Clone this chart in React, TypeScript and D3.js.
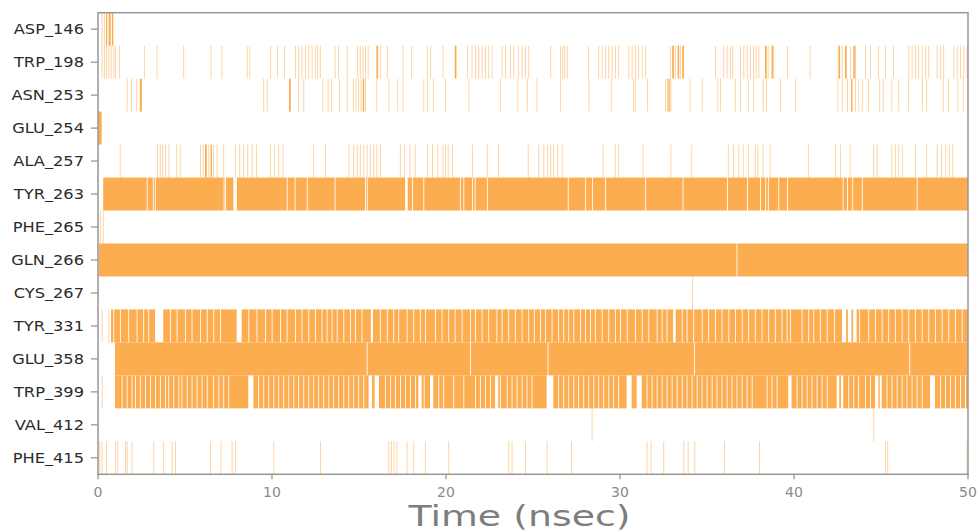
import React from "react";
import * as d3 from "d3";

// Residue contact timeline: each row marks the frames in which the residue is in contact.
const residues = [
  "ASP_146", "TRP_198", "ASN_253", "GLU_254", "ALA_257", "TYR_263", "PHE_265",
  "GLN_266", "CYS_267", "TYR_331", "GLU_358", "TRP_399", "VAL_412", "PHE_415",
];

const xTicks = [0, 10, 20, 30, 40, 50];
const FRAME = 0.05; // nsec per recorded frame
const TIME_MAX = 50;

type Gap = number | [number, number];

// Single-frame contacts (nsec)
const asp146Hits = [0.21, 0.34];
const asp146Spans: [number, number][] = [[0.46, 0.53], [0.61, 0.73], [0.8, 0.88]];

const trp198Hits = [
  0.21, 0.34, 0.46, 0.59, 0.73, 0.88, 0.97, 1.2, 2.64, 3.37, 4.9, 6.47, 7.1, 8.55, 8.7, 9.9, 10.3, 10.7,
  11.32, 11.51, 11.7, 11.9, 12.09, 12.28, 12.47, 12.6, 12.75, 13.6, 13.8, 14.3, 14.9, 15.05, 15.2, 15.35, 15.5,
  16.2, 16.6, 17.5, 18.0, 18.9, 19.1, 19.8, 21.2, 21.47, 21.67, 21.86, 22.05, 22.24, 22.43, 22.62,
  23.2, 23.39, 23.68, 23.87, 24.15, 24.35, 24.54, 24.73, 26.0, 26.55, 26.69, 26.8, 26.94, 28.16,
  28.75, 28.95, 29.14, 29.33, 29.52, 29.71, 29.9, 30.48, 30.67, 30.86, 31.05, 31.25, 31.44,
  32.87, 33.16, 33.45, 35.46, 35.94, 36.13, 36.32, 36.45, 36.9, 37.09, 37.28, 37.47, 37.66,
  37.8, 37.95, 38.49, 38.81, 39.6, 40.9, 42.74, 43.22, 43.51, 44.08, 44.37, 44.83, 45.23, 45.7,
  46.57, 46.76, 46.95, 47.14, 47.34, 47.53, 47.72, 48.2, 48.39, 48.58, 49.16, 49.35, 49.54, 49.73, 49.92,
];
const trp198Spans: [number, number][] = [
  [16.0, 16.1], [20.5, 20.6], [33.0, 33.1], [33.31, 33.4], [33.58, 33.68], [38.33, 38.43], [38.71, 38.8],
  [42.55, 42.65], [42.93, 43.03], [43.41, 43.5],
];

const asn253Hits = [
  1.65, 1.9, 2.2, 9.5, 9.7, 11.5, 11.8, 12.9, 13.2, 13.4, 13.85, 14.3, 14.65, 14.8, 14.95, 15.1, 15.35,
  16.0, 16.7, 17.2, 17.5, 18.7, 18.9, 19.25, 19.95, 21.3, 23.1, 24.1, 24.65, 25.2, 26.55, 28.2, 29.5,
  30.75, 30.85, 31.55, 32.6, 32.7, 32.9, 34.0, 34.7, 35.6, 35.75, 36.6, 36.9, 37.35, 37.65, 38.2, 38.4,
  39.2, 40.05, 42.5, 42.75, 43.05, 43.5, 43.7, 43.9, 44.25, 44.9, 45.1, 45.6, 46.0, 46.55, 47.35, 47.6,
  48.55, 48.85, 49.4, 49.7,
];
const asn253Spans: [number, number][] = [[2.4, 2.52], [10.98, 11.08], [15.22, 15.3], [32.78, 32.86], [43.28, 43.36]];

const glu254Hits: number[] = [];
const glu254Spans: [number, number][] = [[0.02, 0.21]];

const ala257Hits = [
  1.25, 3.4, 3.55, 3.7, 3.85, 4.05, 4.5, 4.7, 5.86, 6.02, 6.34, 6.62, 6.82, 7.2,
  7.87, 8.12, 8.35, 8.58, 8.83, 9.08, 9.89, 10.11, 10.36, 10.61, 12.37, 13.05,
  14.4, 14.67, 14.87, 15.05, 15.25, 15.44, 15.63, 15.82, 16.0, 16.2, 17.35, 17.6, 17.9, 18.2,
  18.9, 19.2, 19.5, 19.8, 19.95, 20.1, 20.35, 21.5, 22.35, 23.0, 24.7,
  25.3, 25.6, 25.8, 26.0, 26.15, 26.4, 26.65, 29.0, 29.7, 29.9, 31.3, 32.9, 34.1,
  36.2, 36.5, 36.8, 37.05, 37.35, 37.75, 37.9, 38.2, 38.6, 40.8, 42.35, 42.65, 43.2, 44.55, 44.75,
  45.6, 45.8, 46.0, 46.2, 46.95, 47.6, 48.2, 48.45, 48.7, 48.9, 49.1,
];
const ala257Spans: [number, number][] = [[6.15, 6.25], [6.47, 6.55]];

const tyr263Hits: number[] = [];
const tyr263Spans: [number, number][] = [[0.3, 50]];
const tyr263Gaps: Gap[] = [
  2.8, 3.15, 3.27, 7.22, 7.3, [7.78, 7.98], 10.85, 11.3, 12.0, 13.6, 15.35, 15.45, [17.65, 17.8], 18.05,
  18.7, 20.8, 21.0, 21.5, 21.65, 22.35, 27.0, 28.0, 28.4, 29.15, 31.45, 33.6, 36.15, 37.3,
  38.05, 38.35, 38.5, 39.1, 39.6, 42.8, 43.05, 43.35, 43.9, 47.05,
];

const phe265Hits = [0.11, 0.27];

const gln266Spans: [number, number][] = [[0.05, 50]];
const gln266Gaps: Gap[] = [36.7];

const cys267Hits = [34.15];

const tyr331Hits = [0.21, 0.6];
const tyr331Spans: [number, number][] = [[0.75, 3.28], [3.75, 7.97], [8.26, 50]];
const tyr331Gaps: Gap[] = [
  0.88, 1.26, 1.74, 2.22, 2.6, 2.89, 4.14, 4.52, 5.0, 5.38, 5.86, 6.25, 6.63, 7.01,
  8.64, 9.11, 9.6, 9.98, 10.46, 10.84, 11.32, 11.7, 12.09, 12.47, 12.85, 13.14, 13.43, 13.72,
  14.1, 14.48, 14.77, 15.15, [15.68, 15.8], 16.2, 16.6, 16.97, 17.26, 17.74, 18.12, 18.5, 18.8,
  19.37, 19.75, 20.13, 20.5, 20.9, 21.38, 21.67, 22.05, 22.43, 22.9, 23.2, 23.58, 23.96, 24.35,
  24.73, 25.05, 25.4, 25.7, 26.07, 26.45, 26.74, 27.03, 27.32, 27.7, 27.99, 28.28, 28.56, 28.95,
  29.33, 29.71, 30.0, 30.39, 30.86, 31.25, 31.63, 32.11, 32.4, 32.68, [33.05, 33.2], 33.55, 33.83,
  34.21, 34.7, 35.07, 35.46, 35.84, 36.23, 36.61, 37.0, 37.37, 37.75, 38.14, 38.52, 38.9, 39.29,
  39.58, 39.77, 40.44, 40.82, 41.11, 41.49, 41.88, 42.3, [42.76, 43.0], [43.1, 43.3], [43.4, 43.6],
  43.75, 44.27, 44.66, 45.04, 45.42, 45.8, 46.19, 46.57, 46.95, 47.34, 47.72, 48.1, 48.49, 48.87,
  49.25, 49.64,
];

const glu358Spans: [number, number][] = [[0.98, 50]];
const glu358Gaps: Gap[] = [15.44, 21.38, 25.84, 34.25, 46.63];

const trp399Hits = [0.21];
const trp399Spans: [number, number][] = [[0.98, 50]];
const trp399Gaps: Gap[] = [
  1.36, 1.65, 1.93, 2.13, 2.41, 2.7, 2.99, 3.28, 3.56, 3.85, 4.04, 4.33, 4.62, 4.8, 5.1, 5.38, 5.67,
  5.96, 6.25, 6.62, 6.92, 7.2, 7.49, [8.64, 8.93], 9.21, 9.5, 9.79, 10.08, 10.36, 10.65, 10.94,
  11.23, 11.51, 11.8, 12.09, 12.37, 12.66, 12.95, 13.24, 13.52, 13.81, 14.1, 14.39, 14.67, 14.96,
  15.25, [15.55, 15.75], [15.9, 16.15], 16.49, 16.78, 17.07, 17.36, 17.64, 17.93, 18.22,
  [18.41, 18.6], 18.72, [19.08, 19.27], 19.56, 19.84, 20.42, 21.0, 21.67, 21.95, 22.24, 22.53,
  [22.82, 23.0], 23.1, 23.49, 23.77, 24.06, 24.35, 24.63, 24.92, [25.78, 26.17], 26.45, 26.74,
  27.03, 27.32, 27.6, 27.89, 28.18, 28.47, 28.75, 29.04, 29.33, 29.61, 29.9, [30.38, 30.67],
  [30.96, 31.25], 31.53, 31.82, 32.11, 32.4, 32.68, 32.97, 33.26, 33.55, 33.83, 34.12, 34.41,
  34.69, 34.98, 35.27, 35.55, 35.84, 36.13, 36.41, 36.7, 36.99, 37.28, 37.57, 38.43, 38.71, 39.0,
  [39.67, 39.86], 40.15, 40.44, 40.73, 41.01, 41.3, 41.59, 41.88, [42.45, 42.6], [42.7, 42.83],
  43.12, 43.41, 43.69, 44.08, 44.37, [44.66, 44.85], [44.93, 45.04], 45.32, 45.61, 45.9, 46.19,
  46.47, 46.76, 47.05, 47.34, [47.82, 48.1], 48.39, 48.68, 48.97, 49.25, 49.54, 49.83,
];

const val412Hits = [28.37, 44.56];

const phe415Hits = [
  0.08, 0.21, 0.46, 0.98, 1.11, 1.55, 1.65, 1.93, 3.18, 3.75, 4.23, 4.43, 6.44, 7.05, 7.68, 7.87,
  10.08, 12.76, 16.69, 16.84, 16.99, 17.16, 17.74, 18.12, 18.79, 20.13, 23.58, 23.77, 24.54,
  25.78, 27.18, 31.53, 31.76, 32.49, 33.64, 33.89, 34.27, 35.99, 37.99, 45.23, 45.36, 49.92,
];

type RowData = { hits: number[]; spans: [number, number][]; gaps: Gap[] };

const rowData: Record<string, RowData> = {
  ASP_146: { hits: asp146Hits, spans: asp146Spans, gaps: [] },
  TRP_198: { hits: trp198Hits, spans: trp198Spans, gaps: [] },
  ASN_253: { hits: asn253Hits, spans: asn253Spans, gaps: [] },
  GLU_254: { hits: glu254Hits, spans: glu254Spans, gaps: [] },
  ALA_257: { hits: ala257Hits, spans: ala257Spans, gaps: [] },
  TYR_263: { hits: tyr263Hits, spans: tyr263Spans, gaps: tyr263Gaps },
  PHE_265: { hits: phe265Hits, spans: [], gaps: [] },
  GLN_266: { hits: [], spans: gln266Spans, gaps: gln266Gaps },
  CYS_267: { hits: cys267Hits, spans: [], gaps: [] },
  TYR_331: { hits: tyr331Hits, spans: tyr331Spans, gaps: tyr331Gaps },
  GLU_358: { hits: [], spans: glu358Spans, gaps: glu358Gaps },
  TRP_399: { hits: trp399Hits, spans: trp399Spans, gaps: trp399Gaps },
  VAL_412: { hits: val412Hits, spans: [], gaps: [] },
  PHE_415: { hits: phe415Hits, spans: [], gaps: [] },
};

type Interval = { a: number; b: number; single: boolean };

// Split contact runs at the frames where the contact is broken; single frames are kept apart.
function contactIntervals(d: RowData): Interval[] {
  const out: Interval[] = [];
  const gaps = d.gaps
    .map((g) => (typeof g === "number" ? ([g, g + FRAME] as [number, number]) : g))
    .sort((p, q) => p[0] - q[0]);
  for (const [s, e] of d.spans) {
    let cur = s;
    for (const [g0, g1] of gaps) {
      if (g1 <= cur || g0 >= e) continue;
      if (g0 > cur) out.push({ a: cur, b: g0, single: false });
      cur = Math.max(cur, g1);
    }
    if (cur < e) out.push({ a: cur, b: e, single: false });
  }
  for (const t of d.hits) out.push({ a: t, b: Math.min(t + FRAME, TIME_MAX), single: true });
  return out;
}

const W = 980;
const H = 531;
const M = { left: 98, right: 968, top: 12.7, bottom: 474.3 };
const BAR = "#fbad50";
const AXIS = "#979797";
const FONT = "'DejaVu Sans', sans-serif";

export default function App() {
  const x = d3.scaleLinear().domain([0, TIME_MAX]).range([M.left, M.right]);
  const y = d3.scaleBand<string>().domain(residues).range([M.top, M.bottom]).padding(0);
  const bw = y.bandwidth();

  return (
    <svg
      width={W}
      height={H}
      style={{ position: "absolute", left: 0, top: 0, background: "#fff" }}
      fontFamily={FONT}
    >
      <g>
        {residues.map((r) =>
          contactIntervals(rowData[r]).map((iv, i) => (
            <rect
              key={r + i}
              x={x(iv.a)}
              y={y(r)!}
              width={Math.max(0, x(iv.b) - x(iv.a))}
              height={bw}
              fill={BAR}
              fillOpacity={iv.single ? 0.6 : 1}
            />
          ))
        )}
      </g>

      {/* frame */}
      <rect
        x={M.left}
        y={M.top}
        width={M.right - M.left}
        height={M.bottom - M.top}
        fill="none"
        stroke={AXIS}
        strokeWidth={1.5}
      />

      {/* y axis */}
      {residues.map((r) => {
        const cy = y(r)! + bw / 2;
        return (
          <g key={r}>
            <line x1={M.left - 7} x2={M.left} y1={cy} y2={cy} stroke={AXIS} strokeWidth={1.3} />
            <text
              transform={`translate(84,${cy}) scale(1.12,1)`}
              textAnchor="end"
              dy="0.36em"
              fontSize={14.5}
              fill="#2a2a2a"
            >
              {r}
            </text>
          </g>
        );
      })}

      {/* x axis */}
      {xTicks.map((t) => (
        <g key={t}>
          <line x1={x(t)} x2={x(t)} y1={M.bottom} y2={M.bottom + 5} stroke={AXIS} strokeWidth={1.3} />
          <text x={x(t)} y={497} textAnchor="middle" fontSize={14} fill="#8a8a8a">
            {t}
          </text>
        </g>
      ))}
      <text
        x={519.5}
        y={526}
        textAnchor="middle"
        fontSize={27.5}
        fill="#7d7d7d"
        textLength={222}
        lengthAdjust="spacingAndGlyphs"
      >
        Time (nsec)
      </text>
    </svg>
  );
}
